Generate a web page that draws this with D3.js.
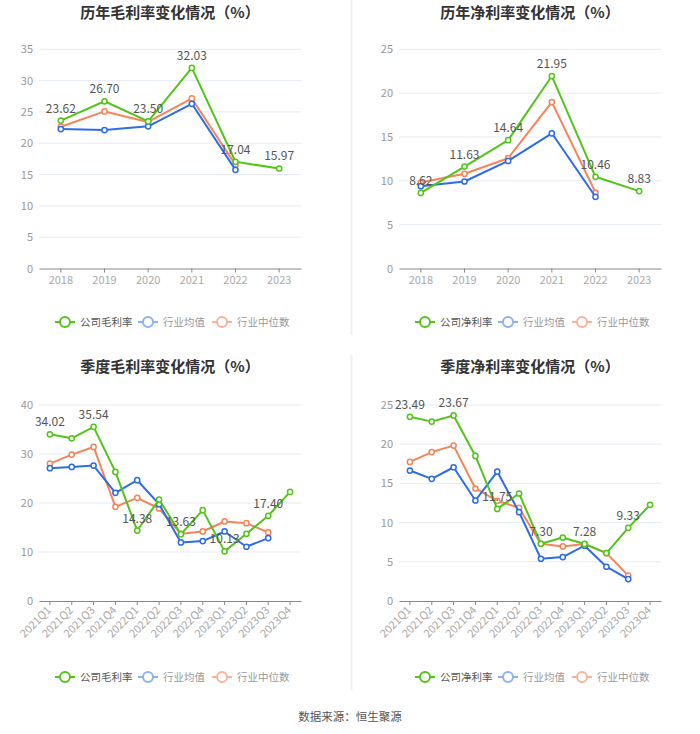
<!DOCTYPE html>
<html><head><meta charset="utf-8">
<script src="https://cdn.jsdelivr.net/npm/d3@7/dist/d3.min.js"></script>
<style>
body{margin:0;background:#fff;}
svg{display:block;font-family:"Noto Sans CJK SC","Noto Sans",sans-serif;}
</style></head>
<body>
<svg id="c" width="700" height="734"></svg>
<script>
// ---- data ----
const years = ["2018","2019","2020","2021","2022","2023"];
const quarters = ["2021Q1","2021Q2","2021Q3","2021Q4","2022Q1","2022Q2","2022Q3","2022Q4","2023Q1","2023Q2","2023Q3","2023Q4"];

const annualGrossCompany = [23.62, 26.70, 23.50, 32.03, 17.04, 15.97];
const annualGrossAvg     = [22.27, 22.10, 22.70, 26.30, 15.75, null];
const annualGrossMedian  = [22.64, 25.08, 23.40, 27.15, 16.54, null];

const annualNetCompany = [8.62, 11.63, 14.64, 21.95, 10.46, 8.83];
const annualNetAvg     = [9.39, 9.92, 12.27, 15.42, 8.18, null];
const annualNetMedian  = [9.81, 10.80, 12.58, 18.98, 8.67, null];

const qGrossCompany = [34.02, 33.20, 35.54, 26.35, 14.38, 20.70, 13.63, 18.54, 10.13, 13.72, 17.40, 22.27];
const qGrossAvg     = [27.10, 27.37, 27.64, 22.07, 24.65, 19.76, 11.95, 12.22, 14.19, 11.07, 12.84, null];
const qGrossMedian  = [28.05, 29.88, 31.44, 19.22, 21.05, 18.88, 13.72, 14.19, 16.23, 15.89, 13.99, null];

const qNetCompany = [23.49, 22.88, 23.67, 18.50, 11.75, 13.71, 7.30, 8.10, 7.28, 6.11, 9.33, 12.27];
const qNetAvg     = [16.64, 15.58, 17.06, 12.82, 16.51, 11.33, 5.39, 5.60, 7.05, 4.37, 2.80, null];
const qNetMedian  = [17.74, 19.00, 19.82, 14.35, 12.78, 11.88, 7.30, 6.96, 7.26, 6.11, 3.23, null];

const grossTicks = [0,5,10,15,20,25,30,35];
const netTicks = [0,5,10,15,20,25];
const qGrossTicks = [0,10,20,30,40];

const titles = ["历年毛利率变化情况（%）","历年净利率变化情况（%）","季度毛利率变化情况（%）","季度净利率变化情况（%）"];
const legendGross = ["公司毛利率","行业均值","行业中位数"];
const legendNet = ["公司净利率","行业均值","行业中位数"];
const source = "数据来源：恒生聚源";

// ---- styles ----
const colors = ["#52c41a","#2e6be6","#f5845a"];
const legendIconColors = ["#52c41a","#8fb1f5","#f8b39a"];
const legendTextColors = ["#555","#999","#999"];

const svg = d3.select("#c");

// dividers
svg.append("line").attr("x1",351.5).attr("x2",351.5).attr("y1",0).attr("y2",335).attr("stroke","#f0f0f0").attr("stroke-width",2);
svg.append("line").attr("x1",351.5).attr("x2",351.5).attr("y1",355).attr("y2",690).attr("stroke","#f0f0f0").attr("stroke-width",2);

function drawChart(o){
  const g = svg.append("g");
  // title
  g.append("text").attr("x",o.ox+170).attr("y",o.titleY).attr("text-anchor","middle")
   .attr("font-size",15).attr("font-weight","bold").attr("fill","#333").text(o.title);

  const x = d3.scaleBand().domain(o.cats).range([o.ox+39, o.ox+301]);
  const y = d3.scaleLinear().domain([0, o.ticks[o.ticks.length-1]]).range([o.y0, o.yTop]);

  // grid
  g.selectAll(".grid").data(o.ticks.filter(t=>t>0)).join("line")
    .attr("x1",o.ox+39).attr("x2",o.ox+301)
    .attr("y1",d=>y(d)).attr("y2",d=>y(d))
    .attr("stroke","#e6ebf5").attr("stroke-width",1);

  // y labels
  g.selectAll(".yl").data(o.ticks).join("text")
    .attr("x",o.ox+33).attr("y",d=>y(d)+4).attr("text-anchor","end")
    .attr("font-size",11).attr("fill","#999").text(d=>d);

  // x axis
  const xa = d3.axisBottom(x).tickSize(4).tickSizeOuter(0);
  const ax = g.append("g").attr("transform",`translate(0,${o.y0})`).call(xa);
  ax.select(".domain").attr("stroke","#888");
  ax.selectAll(".tick line").attr("stroke","#888");
  ax.selectAll(".tick text").attr("fill","#aaa").attr("font-size",11)
    .attr("font-family",'"Noto Sans CJK SC","Noto Sans",sans-serif');
  if(o.rotate){
    ax.selectAll(".tick text").attr("text-anchor","end").attr("dy",0).attr("y",0)
      .attr("transform","translate(2,10) rotate(-45)");
  } else {
    ax.selectAll(".tick text").attr("dy",0).attr("y",15);
  }

  const cx = d => x(d) + x.bandwidth()/2;
  const order = [2,1,0];
  order.forEach(si=>{
    const vals = o.series[si];
    const pts = o.cats.map((c,i)=>({c,v:vals[i]})).filter(p=>p.v!=null);
    const line = d3.line().x(p=>cx(p.c)).y(p=>y(p.v));
    g.append("path").datum(pts).attr("d",line).attr("fill","none")
      .attr("stroke",colors[si]).attr("stroke-width",2).attr("stroke-linejoin","round");
    g.selectAll(null).data(pts).join("circle")
      .attr("cx",p=>cx(p.c)).attr("cy",p=>y(p.v)).attr("r",2.6)
      .attr("fill","#fff").attr("stroke",colors[si]).attr("stroke-width",1.5);
  });
  const comp = o.series[0];
  g.selectAll(null).data(o.cats.map((c,i)=>({c,v:comp[i],i})).filter(p=>o.labelIdx.includes(p.i))).join("text")
    .attr("x",p=>cx(p.c)).attr("y",p=>y(p.v)-8).attr("text-anchor","middle")
    .attr("font-size",12).attr("fill","#555").text(p=>p.v.toFixed(2));

  // legend
  const lx = [o.ox+55, o.ox+138, o.ox+212];
  o.legend.forEach((t,i)=>{
    g.append("line").attr("x1",lx[i]).attr("x2",lx[i]+20).attr("y1",o.legY).attr("y2",o.legY)
      .attr("stroke",legendIconColors[i]).attr("stroke-width",2);
    g.append("circle").attr("cx",lx[i]+10).attr("cy",o.legY).attr("r",5)
      .attr("fill","#fff").attr("stroke",legendIconColors[i]).attr("stroke-width",2);
    g.append("text").attr("x",lx[i]+25).attr("y",o.legY+4).attr("font-size",10.5)
      .attr("fill",legendTextColors[i]).text(t);
  });
}

drawChart({ox:0, title:titles[0], titleY:18, cats:years, ticks:grossTicks, y0:268.5, yTop:49.3,
  series:[annualGrossCompany,annualGrossAvg,annualGrossMedian], labelIdx:[0,1,2,3,4,5], legend:legendGross, legY:322, rotate:false});
drawChart({ox:360, title:titles[1], titleY:18, cats:years, ticks:netTicks, y0:268.5, yTop:49.3,
  series:[annualNetCompany,annualNetAvg,annualNetMedian], labelIdx:[0,1,2,3,4,5], legend:legendNet, legY:322, rotate:false});
drawChart({ox:0, title:titles[2], titleY:372, cats:quarters, ticks:qGrossTicks, y0:601, yTop:405,
  series:[qGrossCompany,qGrossAvg,qGrossMedian], labelIdx:[0,2,4,6,8,10], legend:legendGross, legY:677, rotate:true});
drawChart({ox:360, title:titles[3], titleY:372, cats:quarters, ticks:netTicks, y0:601, yTop:405,
  series:[qNetCompany,qNetAvg,qNetMedian], labelIdx:[0,2,4,6,8,10], legend:legendNet, legY:677, rotate:true});

svg.append("text").attr("x",350).attr("y",721).attr("text-anchor","middle").attr("font-size",11.5)
  .attr("fill","#555").text(source);
</script>
</body></html>
